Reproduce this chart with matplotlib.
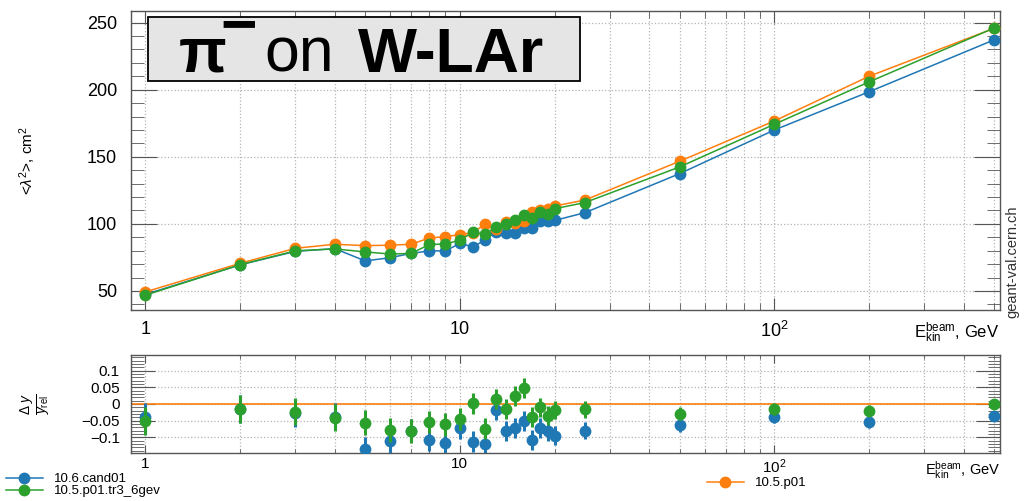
import matplotlib
matplotlib.use("Agg")
import matplotlib.pyplot as plt
from matplotlib.ticker import LogLocator, NullFormatter, MultipleLocator, FixedLocator
from matplotlib.patches import Rectangle

plt.rcParams["font.family"] = ["Liberation Sans", "DejaVu Sans"]
plt.rcParams["mathtext.fontset"] = "custom"
plt.rcParams["mathtext.rm"] = "Liberation Sans"
plt.rcParams["mathtext.it"] = "Liberation Sans:italic"
plt.rcParams["mathtext.bf"] = "Liberation Sans:bold"

# beam kinetic energy, GeV
energy = [1, 2, 3, 4, 5, 6, 7, 8, 9, 10, 11, 12, 13, 14, 15, 16, 17, 18, 19, 20,
          25, 50, 100, 200, 500]

# reference release 10.5.p01: <lambda^2>, cm^2
ref_p01 = [49.3, 70.6, 81.8, 84.8, 83.8, 84.1, 84.8, 89.5, 90.5, 92.0,
           93.5, 99.7, 96.0, 101.2, 100.6, 102.0, 109.0, 110.1, 111.3, 113.3,
           117.8, 146.7, 176.7, 210.0, 245.8]

# relative deviation from the reference
rel_cand01 = [-0.038, -0.016, -0.028, -0.038, -0.136, -0.111, -0.080, -0.108, -0.117, -0.072,
              -0.113, -0.120, -0.019, -0.080, -0.072, -0.050, -0.108, -0.072, -0.082, -0.095,
              -0.080, -0.063, -0.038, -0.055, -0.035]
rel_tr3 = [-0.050, -0.015, -0.023, -0.041, -0.056, -0.078, -0.081, -0.054, -0.061, -0.044,
           0.002, -0.074, 0.016, -0.015, 0.024, 0.047, -0.040, -0.010, -0.035, -0.018,
           -0.016, -0.029, -0.014, -0.020, 0.001]
rel_err = [0.042, 0.042, 0.040, 0.040, 0.038, 0.036, 0.035, 0.034, 0.034, 0.033,
           0.031, 0.031, 0.030, 0.030, 0.030, 0.030, 0.030, 0.029, 0.029, 0.028,
           0.025, 0.020, 0.018, 0.016, 0.014]

labels = ["10.6.cand01", "10.5.p01.tr3_6gev", "10.5.p01"]
c_blue, c_orange, c_green = "#1f77b4", "#ff7f0e", "#2ca02c"

cand01 = [r * (1 + d) for r, d in zip(ref_p01, rel_cand01)]
tr3 = [r * (1 + d) for r, d in zip(ref_p01, rel_tr3)]

W, H = 1027, 501
fig = plt.figure(figsize=(W / 100, H / 100), dpi=100)


def fx(px):
    return px / W


def fy(py):
    return 1 - py / H


ax = fig.add_axes([fx(131), fy(310), fx(1000) - fx(131), fy(11) - fy(310)])
axr = fig.add_axes([fx(131), fy(453.3), fx(1000) - fx(131), fy(355) - fy(453.3)])

mk = dict(marker="o", markersize=8.5, lw=1.1, markeredgewidth=0)
ax.plot(energy, cand01, color=c_blue, zorder=3, **mk)
ax.plot(energy, ref_p01, color=c_orange, zorder=4, **mk)
ax.plot(energy, tr3, color=c_green, zorder=5, **mk)

axr.axhline(0, color=c_orange, lw=1.2, zorder=2)
ek = dict(fmt="o", markersize=8.5, elinewidth=2.2, capsize=0, markeredgewidth=0)
axr.errorbar(energy, rel_cand01, yerr=rel_err, color=c_blue, zorder=3, **ek)
axr.errorbar(energy, rel_tr3, yerr=rel_err, color=c_green, zorder=4, **ek)

xlim = (0.9, 522)
spine_c = "#555555"
for a in (ax, axr):
    a.set_xscale("log")
    a.set_xlim(*xlim)
    a.xaxis.set_major_locator(FixedLocator([1, 10, 100]))
    a.set_xticks([1, 10, 100], labels=["1", "10", "$10^{2}$"])
    a.xaxis.set_minor_locator(LogLocator(base=10, subs=range(2, 10)))
    a.xaxis.set_minor_formatter(NullFormatter())
    a.grid(True, which="major", axis="both", color="#b5b5b5", ls=":", lw=0.9)
    a.grid(True, which="minor", axis="x", color="#b5b5b5", ls=":", lw=0.9)
    a.tick_params(which="both", direction="in", top=True, right=True, color=spine_c)
    for s in a.spines.values():
        s.set_color(spine_c)
        s.set_linewidth(1.0)

ax.set_ylim(35.8, 258.7)
ax.yaxis.set_major_locator(MultipleLocator(50))
ax.yaxis.set_minor_locator(MultipleLocator(10))
ax.tick_params(axis="y", which="major", length=19, labelsize=13, pad=10)
ax.tick_params(axis="y", which="minor", length=9.5)
ax.tick_params(axis="x", which="major", length=9, labelsize=13, pad=8)
ax.tick_params(axis="x", which="minor", length=5)

axr.set_ylim(-0.148, 0.147)
axr.yaxis.set_major_locator(FixedLocator([-0.1, -0.05, 0, 0.05, 0.1]))
axr.set_yticks([-0.1, -0.05, 0, 0.05, 0.1], labels=["\u22120.1", "\u22120.05", "0", "0.05", "0.1"])
axr.yaxis.set_minor_locator(MultipleLocator(0.01))
axr.tick_params(axis="y", which="major", length=17, labelsize=11, pad=8)
axr.tick_params(axis="y", which="minor", length=9)
axr.tick_params(axis="x", which="major", length=6, labelsize=11, pad=3)
axr.tick_params(axis="x", which="minor", length=3)

# axis titles
fig.text(fx(28), fy(160), r"<$\lambda^{2}$>, cm$^{2}$", rotation=90, ha="center", va="center", fontsize=11)
fig.text(fx(957), fy(333), r"E$_{\mathrm{kin}}^{\mathrm{beam}}$, GeV", ha="center", va="center", fontsize=12)
fig.text(fx(963), fy(470), r"E$_{\mathrm{kin}}^{\mathrm{beam}}$, GeV", ha="center", va="center", fontsize=10.5)
fig.text(fx(36), fy(404), r"$\frac{\Delta\ y}{y_{\mathrm{rel}}}$", rotation=90, ha="center", va="center", fontsize=14)
fig.text(fx(1012), fy(262), "geant-val.cern.ch", rotation=90, ha="center", va="center", fontsize=10.5, color="#333333")

# title box
fig.patches.append(Rectangle((fx(148), fy(81)), fx(580) - fx(148), fy(17) - fy(81),
                             transform=fig.transFigure, facecolor="#e5e5e5",
                             edgecolor="black", lw=1.3, zorder=10))
tk = dict(family="Liberation Sans", fontsize=45, va="baseline", ha="left", zorder=11)
base = fy(72)
fig.text(fx(179), base, "\u03c0", fontweight="bold", **tk)
fig.text(fx(220), fy(44), "\u2212", fontweight="bold", **tk)
fig.text(fx(264), base, "on", **tk)
fig.text(fx(358), base, "W-LAr", fontweight="bold", **tk)

# legends
h_blue, = axr.plot([], [], color=c_blue, **mk)
h_green, = axr.plot([], [], color=c_green, **mk)
h_orange, = axr.plot([], [], color=c_orange, **mk)
lk = dict(frameon=False, fontsize=9.5, handlelength=2.8, handletextpad=0.8,
          labelspacing=0.0, borderpad=0, borderaxespad=0)
leg1 = fig.legend([h_blue, h_green], labels[:2], loc="upper left",
                  bbox_to_anchor=(fx(6), fy(473)), **lk)
leg2 = fig.legend([h_orange], labels[2:], loc="upper left",
                  bbox_to_anchor=(fx(707), fy(477)), **lk)

fig.savefig("out.png", dpi=100)
